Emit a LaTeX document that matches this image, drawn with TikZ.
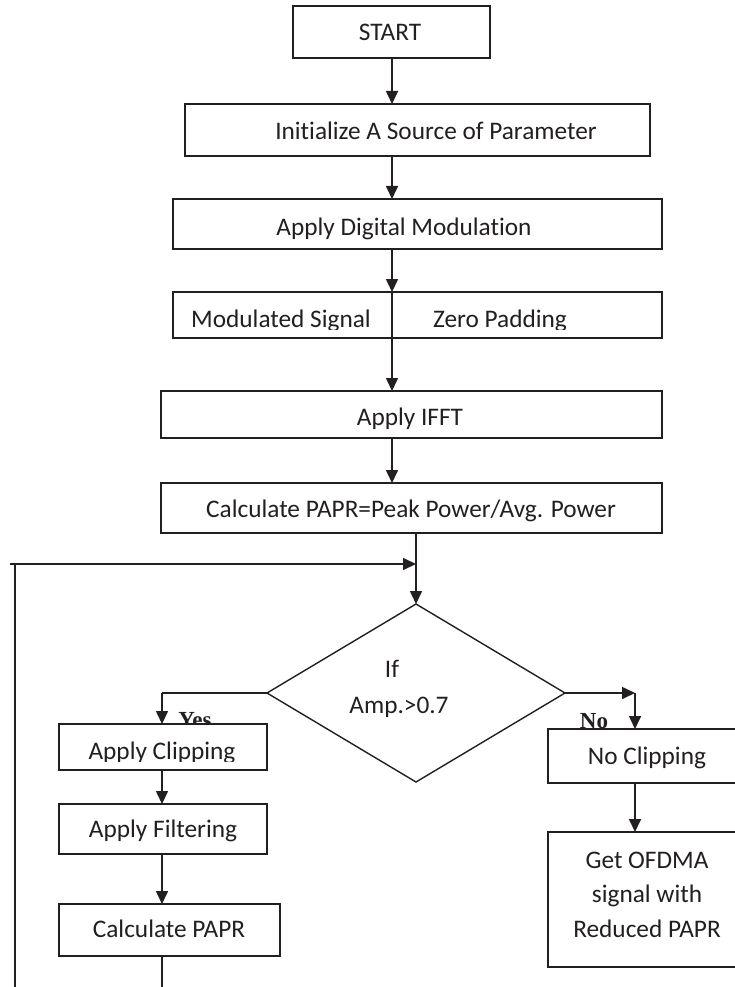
\documentclass[tikz,border=0pt]{standalone}
\usepackage{fontspec}
\setmainfont{Carlito}[Ligatures=NoCommon]
\newfontfamily\lblfont{Liberation Serif}
\usetikzlibrary{arrows.meta,shapes.geometric}
\definecolor{ink}{HTML}{231F20}
\begin{document}
\begin{tikzpicture}[x=1pt,y=-1pt,
  box/.style={draw=ink, line width=1.7pt, fill=white, inner sep=0pt, outer sep=0pt},
  txt/.style={font=\fontsize{25.3}{34.5}\selectfont, inner sep=0pt, anchor=base, text=ink},
  lbl/.style={font=\lblfont\bfseries\fontsize{23}{26}\selectfont, inner sep=0pt, anchor=base, text=ink},
  conn/.style={draw=ink, line width=1.6pt},
  arr/.style={conn, -{Triangle[length=13pt,width=12pt]}}]
\useasboundingbox (0,0) rectangle (735,987);
\clip (0,0) rectangle (735,987);
% main column
\node[box, minimum width=197pt, minimum height=52pt] (start) at (391.5,32) {};
\node[txt] (tstart) at (390,41) {START};
\node[box, minimum width=465pt, minimum height=52pt] (init) at (417.5,130) {};
\node[txt] (tinit) at (436,140) {Initialize A Source of Parameter};
\node[box, minimum width=489pt, minimum height=50pt] (dmod) at (417.5,224) {};
\node[txt] (tdmod) at (404,235) {Apply Digital Modulation};
\node[box, minimum width=489pt, minimum height=46pt] (modz) at (417.5,315) {};
\begin{scope}
  \clip (173,292) rectangle (662,329);
  \node[txt] (tmod) at (281,327) {Modulated Signal};
  \node[txt] (tzero) at (500,327) {Zero Padding};
\end{scope}
\node[box, minimum width=501pt, minimum height=47pt] (ifft) at (411.5,414.5) {};
\node[txt] (tifft) at (410,425) {Apply IFFT};
\node[box, minimum width=501pt, minimum height=50pt] (calc) at (411.5,508) {};
\node[txt] (tcalc) at (411,517) {Calculate PAPR=Peak Power/Avg. Power};
% decision
\node[draw=ink, diamond, line width=1.4pt, minimum width=298pt, minimum height=178pt, inner sep=0pt, outer sep=0pt] (dec) at (416,693) {};
\node[txt] (tif) at (392,677) {If};
\node[txt] (tamp) at (399,713) {Amp.>0.7};
% branch labels (partly covered by boxes)
\node[lbl] (yes) at (195,727) {Yes};
\node[lbl] (no) at (594,728) {No};
% yes branch
\node[box, minimum width=208pt, minimum height=46pt] (clipb) at (163,747) {};
\begin{scope}
  \clip (59,724) rectangle (267,761);
  \node[txt] (tclip) at (162,759) {Apply Clipping};
\end{scope}
\node[box, minimum width=208pt, minimum height=50pt] (filt) at (163,829) {};
\node[txt] (tfilt) at (163,837) {Apply Filtering};
\node[box, minimum width=221pt, minimum height=52pt] (papr) at (169.5,930) {};
\node[txt] (tpapr) at (169,937) {Calculate PAPR};
% no branch
\node[box, minimum width=212pt, minimum height=54pt] (noclip) at (654,756) {};
\node[txt] (tnoclip) at (647,764) {No Clipping};
\node[box, minimum width=212pt, minimum height=135pt] (ofdma) at (654,899.5) {};
\node[txt, align=center] (tofdma) at (647,937) {Get OFDMA\\signal with\\Reduced PAPR};
% helper coordinates
\coordinate (col) at (392,0);
\coordinate (ycol) at (162,0);
\coordinate (ncol) at (635,0);
\coordinate (loopL) at (10,564);
\coordinate (loopV) at (15,564);
\coordinate (loopEnd) at (15,995);
\coordinate (pEnd) at (162,995);
\coordinate (yc) at (162,693);
\coordinate (nc) at (635,693);
% connectors
\draw[arr] (start.south -| col) -- (init.north -| col);
\draw[arr] (init.south -| col) -- (dmod.north -| col);
\draw[arr] (dmod.south -| col) -- (modz.north -| col);
\draw[conn] (modz.north -| col) -- (modz.south -| col);
\draw[arr] (modz.south -| col) -- (ifft.north -| col);
\draw[arr] (ifft.south -| col) -- (calc.north -| col);
\draw[arr] (calc.south -| dec.north) -- (dec.north);
\draw[arr] (loopL) -- (loopL -| dec.north);
\draw[conn] (loopV) -- (loopEnd);
\draw[conn] (dec.west) -- (yc);
\draw[arr] (yc) -- (clipb.north -| yc);
\draw[arr] (clipb.south -| ycol) -- (filt.north -| ycol);
\draw[arr] (filt.south -| ycol) -- (papr.north -| ycol);
\draw[conn] (papr.south -| ycol) -- (pEnd);
\draw[arr] (dec.east) -- (nc);
\draw[arr] (nc) -- (noclip.north -| nc);
\draw[arr] (noclip.south -| ncol) -- (ofdma.north -| ncol);
\end{tikzpicture}
\end{document}
